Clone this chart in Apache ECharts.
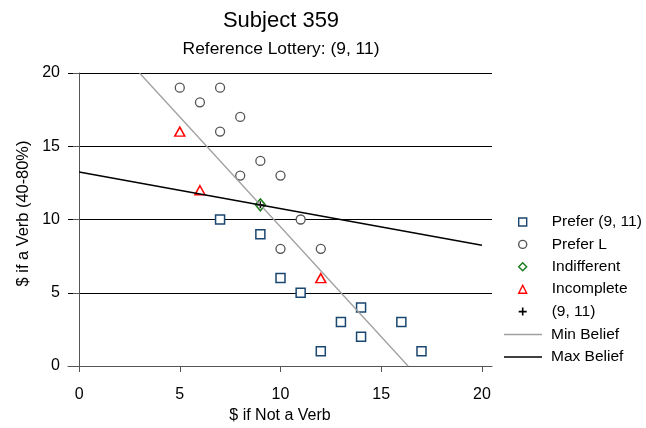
<!DOCTYPE html>
<html>
<head>
<meta charset="utf-8">
<script src="https://cdn.jsdelivr.net/npm/echarts@6/dist/echarts.min.js"></script>
<style>html,body{margin:0;padding:0;background:#fff}#c{width:646px;height:428px}</style>
</head>
<body>
<div id="c"></div>
<script>
var xTicks = [0, 5, 10, 15, 20];
var yTicks = [0, 5, 10, 15, 20];
var preferRef = [[7,10],[9,9],[10,6],[11,5],[12,1],[13,3],[14,4],[14,2],[16,3],[17,1]];
var preferL = [[5,19],[6,18],[7,19],[7,16],[8,17],[8,13],[9,14],[10,13],[11,10],[10,8],[12,8]];
var indifferent = [[9,11]];
var incomplete = [[5,16],[6,12],[12,6]];
var reference = [[9,11]];
var minBelief = [[3,20],[16.333,0]];
var maxBelief = [[0,13.25],[20,8.25]];

var FONT = 'Liberation Sans, Arial, sans-serif';
var chart = echarts.init(document.getElementById('c'), null, {renderer:'canvas'});
var plusPath = 'path://M4,0h2v4h4v2h-4v4h-2v-4h-4v-2h4z';
var legendText = {fontFamily: FONT, fontSize: 15.5, color: '#000'};
chart.setOption({
  animation: false,
  backgroundColor: '#fff',
  textStyle: {fontFamily: FONT},
  title: [
    {text: 'Subject 359', left: 281, top: 10, padding: 0, textAlign: 'center',
     textStyle: {fontFamily: FONT, fontSize: 22, fontWeight: 'normal', color: '#000'}},
    {text: 'Reference Lottery: (9, 11)', left: 281, top: 41, padding: 0, textAlign: 'center',
     textStyle: {fontFamily: FONT, fontSize: 17.4, fontWeight: 'normal', color: '#000'}}
  ],
  grid: {left: 68, right: 154, top: 73, bottom: 62, containLabel: false, outerBoundsMode: 'none'},
  legend: [
    {orient: 'vertical', left: 518, top: 214, padding: 0, itemWidth: 8, itemHeight: 8, itemGap: 6.4,
     itemStyle: {borderWidth: 1.4},
     textStyle: Object.assign({padding: [0,0,0,20]}, legendText),
     data: ['Prefer (9, 11)', 'Prefer L', 'Indifferent', 'Incomplete', '(9, 11)']},
    {orient: 'vertical', left: 504, top: 326.5, padding: 0, itemWidth: 38, itemHeight: 1.5, itemGap: 6.4,
     textStyle: Object.assign({padding: [0,0,0,4]}, legendText),
     data: [{name: 'Min Belief', icon: 'rect'}, {name: 'Max Belief', icon: 'rect'}]}
  ],
  xAxis: {
    type: 'value', min: -0.55, max: 20.5, offset: 10,
    name: '$ if Not a Verb', nameLocation: 'middle', nameGap: 30,
    nameTextStyle: {fontFamily: FONT, fontSize: 16, color: '#000'},
    axisLine: {show: true, lineStyle: {color: '#555', width: 1}},
    axisTick: {show: true, length: 6, customValues: xTicks, lineStyle: {color: '#555'}},
    axisLabel: {customValues: xTicks, margin: 11, fontFamily: FONT, fontSize: 16, color: '#000'},
    splitLine: {show: false}
  },
  yAxis: {
    type: 'value', min: 0, max: 20, interval: 5,
    name: '$ if a Verb (40-80%)', nameLocation: 'middle', nameGap: 30,
    nameTextStyle: {fontFamily: FONT, fontSize: 16.4, color: '#000', padding: [0,0,0,12]},
    axisLine: {show: true, lineStyle: {color: '#555', width: 1}},
    axisTick: {show: true, length: 6, lineStyle: {color: '#555'}},
    axisLabel: {margin: 8, fontFamily: FONT, fontSize: 16, color: '#000'},
    splitLine: {show: true, lineStyle: {color: '#000', width: 1}}
  },
  series: [
    {name: 'Prefer (9, 11)', type: 'scatter', data: preferRef, symbol: 'rect', symbolSize: 9,
     itemStyle: {color: '#fff', borderColor: '#1a476f', borderWidth: 1.5, opacity: 1}},
    {name: 'Prefer L', type: 'scatter', data: preferL, symbol: 'circle', symbolSize: 9,
     itemStyle: {color: '#fff', borderColor: '#555', borderWidth: 1.3, opacity: 1}},
    {name: 'Indifferent', type: 'scatter', data: indifferent, symbol: 'diamond', symbolSize: [10,12],
     itemStyle: {color: '#fff', borderColor: '#1a7a1a', borderWidth: 1.5, opacity: 1}},
    {name: 'Incomplete', type: 'scatter', data: incomplete, symbol: 'triangle', symbolSize: [10,9],
     itemStyle: {color: '#fff', borderColor: '#ff0000', borderWidth: 1.5, opacity: 1}},
    {name: '(9, 11)', type: 'scatter', data: reference, symbol: plusPath, symbolSize: 7,
     itemStyle: {color: '#000', opacity: 1}},
    {name: 'Min Belief', type: 'line', data: minBelief, symbol: 'none', z: 3,
     lineStyle: {color: '#a0a0a0', width: 1.3}, itemStyle: {color: '#a0a0a0'}},
    {name: 'Max Belief', type: 'line', data: maxBelief, symbol: 'none', z: 3,
     lineStyle: {color: '#000', width: 1.5}, itemStyle: {color: '#000'}}
  ]
});
</script>
</body>
</html>
